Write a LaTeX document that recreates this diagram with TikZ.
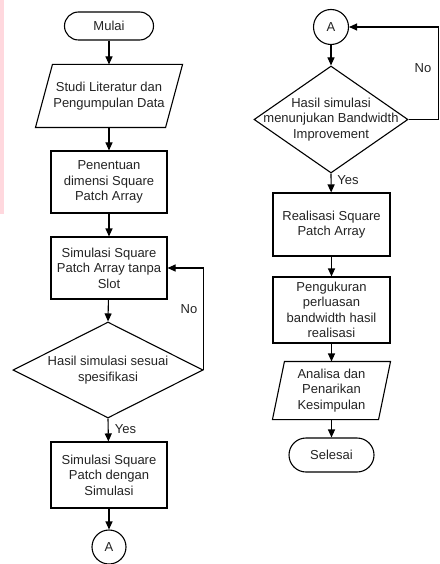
\documentclass[tikz,border=0pt]{standalone}
\usepackage{fontspec}
\setmainfont{Liberation Sans}
\usetikzlibrary{shapes.geometric,arrows.meta}
\definecolor{stripcol}{RGB}{255,216,222}
\definecolor{txtcol}{RGB}{35,35,35}

\tikzset{
  flow/.style={draw, line width=1.1pt, text=txtcol, font=\fontsize{13}{15.5}\selectfont, align=center, inner sep=0pt},
  term/.style={flow, rectangle, rounded corners=14pt, minimum width=89pt, minimum height=28pt},
  proc/.style={flow, rectangle, minimum width=116pt, minimum height=62pt},
  io/.style={flow, draw=none, rectangle},
  decide/.style={flow, diamond},
  conn/.style={flow, circle, minimum size=35pt},
  line/.style={line width=1.1pt, -{Triangle[length=8pt,width=7pt]}},
  outline/.style={line width=1.1pt, line join=miter},
  lbl/.style={text=txtcol, font=\fontsize{13}{15.5}\selectfont, inner sep=1pt},
}

\begin{document}
\begin{tikzpicture}[x=1pt, y=-1pt]
    \useasboundingbox (0,0) rectangle (439,564);
    \fill [stripcol] (0,0) rectangle (4,214);

    % left column
    \node [term] (mulai) at (109,26) {Mulai};
    \node [io, minimum width=129pt, minimum height=62pt] (studi) at (109,96) {Studi Literatur dan\\Pengumpulan Data};
    \node [proc] (penentuan) at (109,182) {Penentuan\\dimensi Square\\Patch Array};
    \node [proc] (simslot) at (109,268) {Simulasi Square\\Patch Array tanpa\\Slot};
    \node [decide, minimum width=190pt, minimum height=96pt,
           label={[lbl,align=center]center:Hasil simulasi sesuai\\spesifikasi}] (cek1) at (108,370) {};
    \node [proc, minimum height=66pt] (simdengan) at (109,475) {Simulasi Square\\Patch dengan\\Simulasi};
    \node [conn, minimum size=34pt] (ca1) at (109,547) {A};

    % parallelogram outline, slant 17
    \draw [outline] ([xshift=-8.5pt]studi.south west) -- ([xshift=8.5pt]studi.north west)
        -- ([xshift=8.5pt]studi.north east) -- ([xshift=-8.5pt]studi.south east) -- cycle;

    % right column
    \node [conn] (ca2) at (331,27) {A};
    \node [decide, minimum width=154pt, minimum height=107pt,
           label={[lbl,align=center]center:Hasil simulasi\\menunjukan Bandwidth\\Improvement}] (cek2) at (331,119.5) {};
    \node [proc, minimum width=117pt, minimum height=63pt] (realisasi) at (331.5,224.5) {Realisasi Square\\Patch Array};
    \node [proc, minimum width=117pt, minimum height=66pt] (ukur) at (331.5,310) {Pengukuran\\perluasan\\bandwidth hasil\\realisasi};
    \node [io, minimum width=105pt, minimum height=57pt] (analisa) at (331.5,390.5) {Analisa dan\\Penarikan\\Kesimpulan};
    \node [term, rounded corners=17pt, minimum width=85pt, minimum height=34pt] (selesai) at (331.5,455) {Selesai};

    % parallelogram outline, slant 12
    \draw [outline] ([xshift=-6pt]analisa.south west) -- ([xshift=6pt]analisa.north west)
        -- ([xshift=6pt]analisa.north east) -- ([xshift=-6pt]analisa.south east) -- cycle;

    \draw [line] (mulai) -- (studi);
    \draw [line] (studi) -- (penentuan);
    \draw [line] (penentuan) -- (simslot);
    \draw [line] (simslot) -- (cek1.north);
    \draw [line] (cek1.south) -- (simdengan);
    \draw [line] (simdengan) -- (ca1);
    \draw [line] (cek1.east) |- (simslot.east);

    \draw [line] (ca2) -- (cek2.north);
    \draw [line] (cek2.south) -- (realisasi);
    \draw [line] (realisasi) -- (ukur);
    \draw [line] (ukur) -- (analisa);
    \draw [line] (analisa) -- (selesai);
    \draw [line] (cek2.east) -- ++(30,0) |- (ca2.east);

    \node [lbl] (no1) at (189,309) {No};
    \node [lbl] (yes1) at (125.5,429) {Yes};
    \node [lbl] (no2) at (423,68) {No};
    \node [lbl] (yes2) at (348,180) {Yes};
\end{tikzpicture}
\end{document}
